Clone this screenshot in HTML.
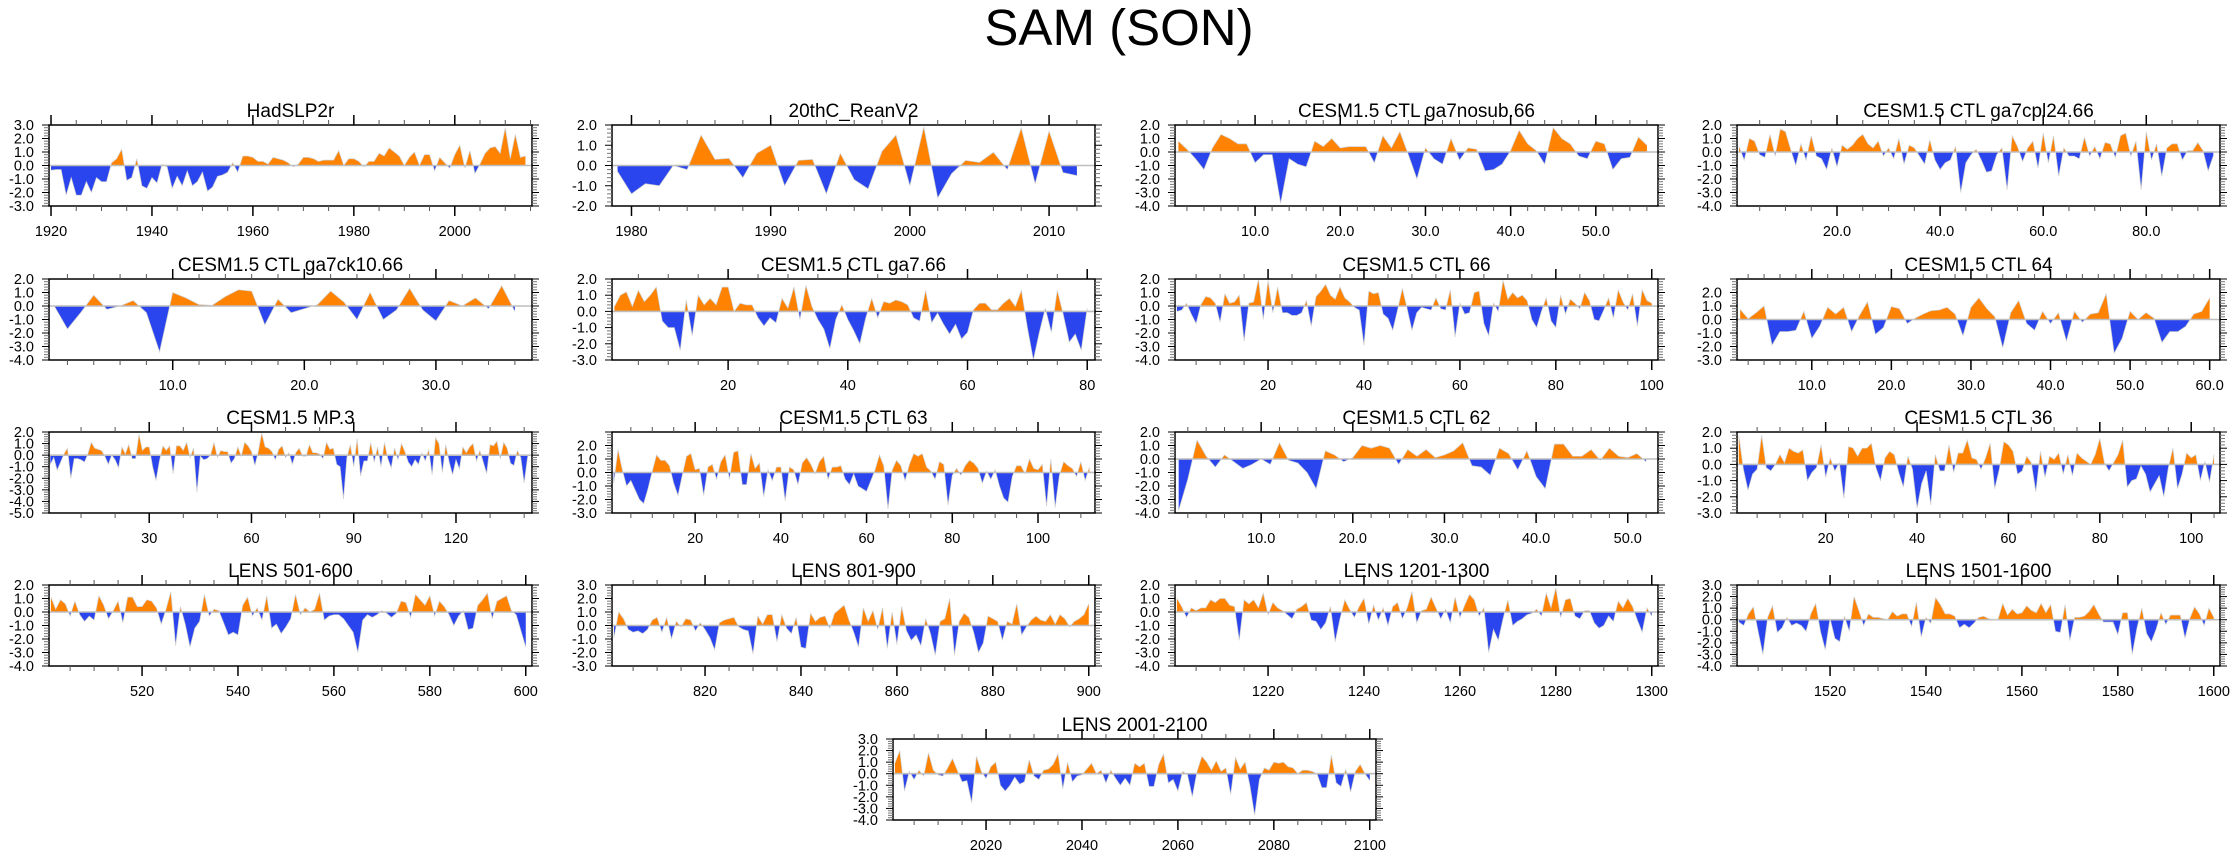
<!DOCTYPE html>
<html>
<head>
<meta charset="utf-8">
<style>
html,body{margin:0;padding:0;background:#fff;}
svg{display:block;}
text{font-family:"Liberation Sans",Arial,sans-serif;fill:#000;}
</style>
</head>
<body>
<svg id="chart" width="2238" height="856" viewBox="0 0 2238 856" xmlns="http://www.w3.org/2000/svg">
<rect x="0" y="0" width="2238" height="856" fill="#fff"/>
<text x="1119" y="45" font-size="51" text-anchor="middle">SAM (SON)</text>
</svg>
<script>
// ---- data ----
const panelTitles = ["HadSLP2r","20thC_ReanV2","CESM1.5 CTL ga7nosub.66","CESM1.5 CTL ga7cpl24.66","CESM1.5 CTL ga7ck10.66","CESM1.5 CTL ga7.66","CESM1.5 CTL 66","CESM1.5 CTL 64","CESM1.5 MP.3","CESM1.5 CTL 63","CESM1.5 CTL 62","CESM1.5 CTL 36","LENS 501-600","LENS 801-900","LENS 1201-1300","LENS 1501-1600","LENS 2001-2100"];
const panelStarts = [1920,1979,1,1,1,1,1,1,1,1,1,1,501,801,1201,1501,2001];
const yMins = [-3,-2,-4,-4,-4,-3,-4,-3,-5,-3,-4,-3,-4,-3,-4,-4,-4];
const yMaxs = [3,2,2,2,2,2,2,3,2,3,2,2,2,3,2,3,3];
const yLabelTops = [3,2,2,2,2,2,2,2,2,2,2,2,2,3,2,3,3];
const xTickStarts = [1920,1980,10,20,10,20,20,10,30,20,10,20,520,820,1220,1520,2020];
const xTickSteps = [20,10,10,20,10,20,20,10,30,20,10,20,20,20,20,20,20];
const xMinorSteps = [5,2,2,5,2,5,5,2,10,5,2,5,5,5,5,5,5];
const xDecimals = [0,0,1,1,1,0,0,1,0,0,1,0,0,0,0,0,0];

const hadslp2rValues = [-0.35,-0.3,-0.3,-2.2,-0.9,-2.2,-2.2,-1.2,-2.0,-0.9,-1.2,-1.2,0.2,0.5,1.2,-1.1,-0.9,0.5,-1.5,-1.7,-0.9,-1.3,0.1,-0.1,-1.7,-0.8,-1.5,-0.4,-1.5,-1.2,-0.5,-1.9,-1.6,-0.8,-0.7,-0.5,0.2,-0.5,0.7,0.7,0.6,0.3,0.3,0.1,0.6,0.5,0.4,0.2,-0.1,0.1,0.6,0.6,0.5,0.3,0.4,0.4,0.4,1.1,0.0,0.5,0.5,0.3,-0.1,0.3,0.3,0.9,0.7,1.3,1.0,0.7,0.0,0.6,1.0,0.0,0.8,0.8,-0.4,0.6,0.2,-0.2,0.8,1.5,-0.2,1.1,-0.6,0.1,0.9,1.3,1.4,0.9,2.8,0.5,2.3,0.6,0.7];
const reanV2Values = [-0.3,-1.4,-0.9,-1.0,0.0,-0.2,1.5,0.3,0.35,-0.6,0.6,1.0,-1.0,0.25,0.3,-1.4,0.6,-0.7,-1.15,0.7,1.5,-1.0,1.9,-1.6,-0.4,0.25,0.15,0.65,-0.2,1.85,-0.9,1.7,-0.35,-0.5];
const ga7nosubValues = [0.8,0.2,-0.5,-1.3,0.3,1.3,1.0,0.6,0.6,-0.8,-0.2,-0.2,-3.8,-0.5,-0.9,-1.1,0.8,0.4,1.0,0.3,0.4,0.4,0.4,-0.8,1.2,0.3,1.5,-0.2,-2.0,0.3,-0.5,-0.9,1.0,-0.6,0.3,0.2,-1.4,-1.3,-0.9,0.1,1.6,0.6,0.1,-0.9,1.8,1.0,0.6,-0.3,-0.5,0.8,0.6,-1.3,-0.5,-0.4,1.1,0.5];
const ga7cpl24Values = [0.4,-0.6,1.0,0.8,-0.2,-0.4,1.3,-0.3,1.7,1.5,0.2,-1.0,0.6,-0.6,1.2,-0.3,-0.5,-1.3,0.3,-1.1,0.5,0.2,0.5,1.0,1.3,0.6,0.3,0.8,-0.3,0.3,-0.5,1.0,-0.9,0.5,0.3,-0.3,-0.9,0.9,-0.6,-1.3,-0.8,-0.6,0.4,-3.0,-0.8,-0.2,0.2,-0.6,-1.5,-1.4,-0.2,0.3,-2.8,1.2,0.4,-0.7,0.3,0.8,-1.2,1.4,-0.8,1.2,-1.8,0.3,-0.3,-0.3,-0.5,1.1,-0.3,0.4,-0.5,0.7,0.6,-0.4,1.2,1.4,-0.3,0.8,-2.8,1.5,-0.6,0.6,-1.8,0.3,0.6,0.6,-0.6,0.1,0.1,0.7,0.1,-1.4,-0.3];
const ga7ck10Values = [0.0,-1.7,-0.5,0.8,-0.25,0.0,0.4,-0.5,-3.4,1.0,0.6,0.1,0.05,0.7,1.2,1.1,-1.4,0.5,-0.5,-0.2,0.1,1.1,0.3,-1.0,1.0,-1.0,-0.3,1.3,-0.3,-1.1,0.4,0.0,0.6,-0.2,1.5,-0.4];
const ga7Values = [0.3,1.0,1.2,0.3,1.3,0.6,1.0,1.5,-0.6,-1.0,-1.0,-2.4,0.7,-1.5,1.0,0.4,0.8,0.4,1.5,1.5,0.0,0.5,0.4,0.4,-0.4,-0.9,-0.4,-0.7,0.8,0.2,1.5,-0.5,1.6,0.3,-0.5,-1.1,-2.3,-0.5,0.4,-0.5,-1.2,-2.0,-0.4,0.8,-0.4,0.6,0.5,0.7,0.6,0.4,-0.4,-0.6,1.3,-0.7,-0.1,-0.8,-1.4,-0.8,-1.7,-1.3,0.1,0.5,0.5,0.1,0.1,0.5,0.8,0.3,1.3,-1.0,-3.0,-1.3,0.2,-1.3,1.3,-0.2,-1.9,-1.4,-2.4,0.2];
const ctl66Values = [-0.4,-0.3,0.2,-0.6,-1.3,0.1,0.7,0.6,0.2,-1.2,0.9,0.2,0.3,0.8,-2.6,0.2,0.3,2.0,-1.0,1.9,-0.5,1.4,-0.5,-0.5,-0.7,-0.7,-0.5,0.4,-1.5,0.7,1.1,1.6,0.8,0.5,1.4,0.6,0.3,-0.1,-0.3,-2.9,1.1,0.9,1.0,-0.6,-0.9,-1.8,-0.3,1.3,-0.2,-1.8,-0.5,-0.1,-0.2,-0.3,0.6,-0.2,-0.3,1.2,-2.3,0.2,-0.6,-0.5,1.0,1.1,-1.3,-2.2,0.2,-0.4,1.9,0.5,1.0,0.6,0.8,0.4,-1.0,-1.6,-0.4,0.6,-1.1,-1.6,0.8,-0.6,0.5,0.2,-0.2,1.0,0.4,-1.0,-1.1,-0.3,0.6,-0.9,1.2,0.3,-0.3,0.9,-1.5,1.2,0.4,0.2];
const ctl64Values = [0.75,0.05,0.5,1.0,-1.9,-0.9,-0.9,-0.8,0.6,-1.4,-0.5,0.9,0.4,0.9,-0.9,0.3,1.3,-1.1,-0.6,0.95,0.8,-0.3,0.1,0.4,0.65,0.7,0.9,0.4,-1.2,0.9,1.6,0.8,0.2,-2.1,0.5,1.4,-0.3,-0.8,0.6,-0.3,0.5,-1.6,0.6,-0.2,0.4,0.5,1.9,-2.5,-1.4,0.6,0.0,0.5,0.1,-1.7,-0.9,-0.9,-0.5,0.4,0.6,1.6];
const mp3Values = [-0.8,-0.2,-1.3,-0.6,0.1,0.6,-2.0,-0.3,-0.3,-0.4,-0.6,0.1,1.1,0.6,0.5,0.4,-0.1,-0.8,0.0,-0.4,-1.1,0.7,0.1,0.9,-0.3,-0.3,1.8,0.4,0.7,0.7,-1.0,-2.2,-0.5,0.8,0.4,0.8,-1.6,0.8,0.8,0.4,1.1,-0.2,0.6,-3.2,-0.1,-0.4,-0.3,0.0,1.1,-0.2,0.4,0.3,0.3,-0.7,-0.3,0.7,-0.1,1.1,0.8,0.3,-0.9,0.3,1.9,0.7,0.6,0.3,-0.4,0.5,0.8,-0.2,0.2,-0.8,0.2,0.6,-0.1,-0.1,0.9,0.2,0.2,0.1,-0.3,1.1,0.5,0.6,-0.8,-1.0,-3.8,-0.2,0.9,-1.0,1.4,-1.8,-0.5,-0.5,1.1,-0.6,0.7,-1.0,1.1,-0.3,-1.1,0.6,-0.4,1.0,0.3,-0.6,-1.0,-0.4,-0.8,0.2,-0.5,0.5,-1.7,1.5,1.0,-1.5,0.9,-0.6,-1.7,-0.4,-1.2,0.7,0.2,0.7,1.0,-0.5,0.4,-0.6,-1.6,0.9,0.8,1.2,-0.3,1.1,0.6,-0.7,-0.9,0.4,-0.2,-2.4,-0.2];
const ctl63Values = [-0.8,1.7,0.2,-1.0,-0.6,-1.3,-2.0,-2.3,-1.2,0.1,1.3,0.9,0.9,0.5,-0.8,-1.7,-0.2,1.2,1.4,0.2,0.3,-1.7,0.4,0.6,-0.5,0.8,1.3,-0.5,1.5,1.6,-0.9,-0.9,1.4,0.3,0.7,-1.8,0.2,-0.6,0.4,0.4,-2.1,0.4,0.2,-0.9,0.7,1.1,0.6,-0.1,0.8,1.2,-0.5,0.4,0.4,0.5,-0.5,-0.9,-0.1,-1.0,-1.2,-1.4,-0.6,0.2,1.3,0.5,-2.7,0.2,0.9,0.5,-0.6,0.6,1.4,1.2,1.4,0.4,0.1,-0.5,0.8,0.6,-2.4,-0.2,0.3,-0.2,0.5,0.9,0.7,0.3,-0.8,0.1,-0.5,0.2,-1.0,-1.9,-2.2,-0.3,0.5,0.5,-0.1,1.0,0.3,0.2,0.6,-2.5,1.0,-2.6,-0.2,0.8,0.5,0.3,-0.3,0.8,-0.6,0.4];
const ctl62Values = [-3.8,-1.5,1.4,0.2,-0.6,0.3,-0.2,-0.7,-0.4,0.0,-0.4,1.2,-0.1,-0.3,-1.0,-2.2,0.6,0.3,-0.2,0.1,1.0,0.8,1.0,0.8,-0.4,0.7,0.2,0.7,0.1,0.3,0.6,1.2,-0.5,-0.6,-1.2,0.8,0.4,-0.8,0.6,-1.3,-2.2,1.1,1.1,0.2,0.2,0.7,-0.1,0.8,0.2,0.1,0.4,-0.2];
const ctl36Values = [1.8,-0.3,-1.6,-0.6,-0.3,1.8,-0.2,-0.4,0.0,0.6,0.1,1.0,0.8,0.7,0.9,-1.0,-0.5,-0.2,1.2,-0.8,0.4,-0.4,0.1,-2.1,1.1,1.0,0.5,1.0,1.0,1.3,-0.2,-1.0,0.4,0.8,0.6,-0.5,-1.4,0.5,-0.3,-2.7,-1.2,-0.4,-2.5,0.6,-0.4,-0.4,1.2,-0.5,0.7,0.7,1.5,0.4,0.3,-0.3,0.4,1.3,-1.5,-0.3,1.4,1.2,0.8,-0.6,-0.4,0.5,0.1,-1.7,0.8,-0.8,0.5,0.3,0.7,-0.6,0.6,-0.7,0.7,0.4,0.2,0.0,0.6,1.6,0.1,-0.4,0.1,0.6,1.5,-1.4,-1.0,-0.9,-0.1,-0.6,-1.7,-1.2,-0.7,-2.0,-0.2,1.0,-1.5,-0.6,0.7,0.4,0.6,-1.0,0.2,-1.1,0.6];
const lens501Values = [1.1,0.2,0.9,0.6,-0.3,0.8,-0.2,-0.7,-0.3,-0.6,1.2,0.5,-0.5,0.1,0.8,-0.8,1.1,1.1,0.4,0.4,0.9,0.8,0.3,-0.9,0.2,1.5,-2.5,0.4,-0.9,-2.6,-1.2,-0.7,1.3,-0.3,0.2,0.1,-0.8,-1.7,-1.5,-1.7,0.5,1.1,-0.3,0.3,-0.6,1.2,-1.2,-0.9,-1.6,-1.1,-0.5,1.3,-0.2,0.3,0.0,0.2,1.4,-0.6,-0.3,-0.2,-0.2,-0.5,-1.0,-1.5,-3.0,-0.6,-0.2,-0.4,-0.2,0.1,-0.1,-0.4,-0.1,0.8,0.7,-0.4,1.3,0.9,0.5,1.2,-0.3,0.8,0.4,-0.2,-1.0,-0.3,0.1,-1.3,-1.2,0.5,0.9,1.4,-0.5,0.8,1.0,1.2,0.1,-0.2,-1.4,-2.6];
const lens801Values = [-0.9,1.0,0.5,-0.3,-0.5,-0.4,-0.6,-0.3,0.4,0.6,-0.5,0.6,-1.0,0.3,-0.1,0.5,0.4,-0.4,0.2,-0.3,-0.9,-1.8,0.2,0.4,0.5,0.6,-0.1,-0.3,-0.4,-2.1,0.7,0.1,0.8,0.8,-1.2,0.8,-0.2,-0.6,0.6,-1.6,-1.7,0.9,0.3,0.6,0.7,-0.2,0.9,1.2,1.5,0.4,-0.5,-1.6,1.3,0.3,1.1,-0.3,1.3,-1.7,1.0,-1.4,1.4,-0.4,-1.1,-0.7,-1.5,0.5,-0.6,-2.2,0.3,0.5,2.0,-2.2,0.3,0.9,0.6,-0.5,-2.0,-1.3,0.7,0.5,0.3,-1.1,0.3,0.1,1.6,-0.7,-0.1,0.4,0.7,0.4,0.3,0.8,0.1,0.8,0.5,-0.1,0.3,0.5,0.8,1.6];
const lens1201Values = [1.0,0.4,-0.4,0.3,0.1,0.3,0.3,0.9,0.7,1.0,1.0,0.5,0.4,-2.1,0.9,0.6,0.9,0.3,1.4,-0.2,0.7,0.3,0.1,-0.2,-0.5,0.2,0.4,0.7,-0.6,-0.7,-1.3,-0.8,0.4,-2.2,-0.5,0.9,0.2,-0.4,0.4,1.0,-0.9,0.5,-0.6,0.3,-1.0,0.4,0.7,-0.5,0.3,1.5,-0.8,0.1,0.2,1.1,0.3,-0.5,0.2,-0.8,1.1,-0.4,0.5,1.3,0.9,-0.3,0.3,-3.0,-1.3,-2.1,-0.5,0.9,-1.0,-0.7,-0.5,-0.2,-0.1,0.2,-0.3,1.4,0.3,1.8,-0.4,0.9,1.0,-0.3,-0.5,0.1,0.1,-0.8,-1.2,-1.0,-0.3,-0.7,0.8,0.3,1.0,0.4,-0.6,-1.5,0.3,-0.3];
const lens1501Values = [-0.2,-0.5,0.5,1.1,-1.0,-3.0,0.2,1.2,-1.1,-0.7,0.2,-0.5,-0.3,-0.5,-1.0,0.5,1.4,-1.0,-2.6,0.1,-1.6,-1.9,0.3,-1.0,2.0,0.8,-0.5,0.5,0.2,0.2,0.1,0.0,0.7,0.3,0.5,0.5,-0.6,1.5,-1.5,0.2,-0.3,1.9,1.3,0.5,0.5,0.3,-0.7,-0.4,-0.7,-0.3,0.2,0.3,0.1,0.0,0.0,1.4,0.4,0.9,0.5,0.6,1.2,0.8,0.6,1.4,0.6,1.3,-1.0,-1.1,1.3,-1.8,0.2,0.2,0.3,0.7,1.3,0.5,-0.2,-0.2,-0.2,-1.3,0.6,0.6,-3.0,-0.7,1.0,-1.2,-1.9,-0.8,0.6,-0.4,0.4,0.4,0.4,-1.6,0.1,1.1,0.5,-0.5,1.0,0.2];
const lens2001Values = [0.9,2.0,-1.5,0.2,-0.5,0.3,-0.2,1.8,0.3,-0.1,-0.2,0.5,1.3,0.3,-0.7,-0.6,-2.5,1.5,0.2,-0.4,0.6,1.0,-1.0,-1.5,-1.0,-0.3,-0.9,-0.7,1.2,-0.2,-0.5,0.3,0.4,0.8,1.7,-1.3,1.0,-0.7,-0.2,-0.1,0.4,0.9,0.0,0.3,-0.8,0.3,-0.4,-1.0,-0.4,-1.0,0.9,0.6,0.9,-1.1,-1.1,0.8,1.7,-0.8,-0.5,-1.5,0.2,-0.1,-2.0,0.2,1.5,1.0,0.3,1.1,0.2,0.5,-1.8,1.4,0.4,1.0,-1.0,-3.6,-0.5,0.5,0.3,1.0,0.9,1.0,0.6,0.5,0.0,0.3,0.3,0.2,0.0,-1.2,-1.2,1.6,-0.8,-1.1,0.4,-1.6,0.2,0.8,0.0,-0.6];

const panelValues = [hadslp2rValues,reanV2Values,ga7nosubValues,ga7cpl24Values,ga7ck10Values,ga7Values,ctl66Values,ctl64Values,mp3Values,ctl63Values,ctl62Values,ctl36Values,lens501Values,lens801Values,lens1201Values,lens1501Values,lens2001Values];

// ---- layout ----
const NS = "http://www.w3.org/2000/svg";
const svg = document.getElementById("chart");
const colLefts = [49, 612, 1175, 1737];
const rowTops = [125, 279, 432, 585, 739];
const BOX_W = 483, BOX_H = 81;
const ORANGE = "#ff8200", BLUE = "#2a45ee";

function mk(tag, attrs, parent) {
  const el = document.createElementNS(NS, tag);
  for (const k in attrs) el.setAttribute(k, attrs[k]);
  (parent || svg).appendChild(el);
  return el;
}
function slug(s) { return s.toLowerCase().replace(/[^a-z0-9]+/g, "-").replace(/^-|-$/g, ""); }

for (let p = 0; p < panelTitles.length; p++) {
  const vals = panelValues[p];
  const first = panelStarts[p];
  const last = first + vals.length - 1;
  const left = p < 16 ? colLefts[p % 4] : 893;
  const top = p < 16 ? rowTops[Math.floor(p / 4)] : rowTops[4];
  const xmin = first - 0.4, xmax = last + 1.3;
  const ymin = yMins[p], ymax = yMaxs[p];
  const sx = v => left + (v - xmin) / (xmax - xmin) * BOX_W;
  const sy = v => top + (ymax - v) / (ymax - ymin) * BOX_H;
  const name = slug(panelTitles[p]);

  const g = mk("g", {});
  
  

  const title = mk("text", {x: left + BOX_W / 2, y: top - 8, "font-size": 19, "text-anchor": "middle"}, g);
  title.textContent = panelTitles[p];
  
  

  const y0 = sy(0);
  const defs = mk("defs", {}, g);
  const cpA = mk("clipPath", {id: "ca" + p}, defs);
  mk("rect", {x: left, y: top, width: BOX_W, height: y0 - top}, cpA);
  const cpB = mk("clipPath", {id: "cb" + p}, defs);
  mk("rect", {x: left, y: y0, width: BOX_W, height: top + BOX_H - y0}, cpB);

  let d = "M" + sx(first).toFixed(2) + "," + y0.toFixed(2);
  let line = "";
  vals.forEach((v, i) => {
    const px = sx(first + i).toFixed(2), py = sy(v).toFixed(2);
    d += " L" + px + "," + py;
    line += (i ? " " : "") + px + "," + py;
  });
  d += " L" + sx(last).toFixed(2) + "," + y0.toFixed(2) + " Z";

  const pos = mk("path", {d: d, fill: ORANGE, "clip-path": "url(#ca" + p + ")"}, g);
  
  
  const neg = mk("path", {d: d, fill: BLUE, "clip-path": "url(#cb" + p + ")"}, g);
  
  
  const zl = mk("line", {x1: left, x2: left + BOX_W, y1: y0, y2: y0, stroke: "#bdbdbd", "stroke-width": 1.6}, g);
  
  
  const pl = mk("polyline", {points: line, fill: "none", stroke: "#cfcfcf", "stroke-width": 0.7}, g);
  
  

  const box = mk("rect", {x: left, y: top, width: BOX_W, height: BOX_H, fill: "none", stroke: "#000", "stroke-width": 1.5}, g);
  
  

  const ticks = mk("g", {stroke: "#000"}, g);
  
  
  for (let k = Math.round(ymin * 5); k <= Math.round(ymax * 5); k++) {
    const yy = sy(k / 5);
    const major = k % 5 === 0;
    const L = major ? 7 : 5;
    const col = major ? "#000" : "#777";
    mk("line", {x1: left - L, x2: left, y1: yy, y2: yy, stroke: col, "stroke-width": 1}, ticks);
    mk("line", {x1: left + BOX_W, x2: left + BOX_W + L, y1: yy, y2: yy, stroke: col, "stroke-width": 1}, ticks);
  }
  for (let v = ymin; v <= yLabelTops[p]; v++) {
    const t = mk("text", {x: left - 15, y: sy(v) + 5, "font-size": 14.5, "text-anchor": "end"}, g);
    t.textContent = v.toFixed(1);
    
    
  }
  const ms = xMinorSteps[p];
  for (let v = Math.ceil(xmin / ms) * ms; v <= xmax; v += ms) {
    const xx = sx(v);
    mk("line", {x1: xx, x2: xx, y1: top - 5, y2: top, "stroke-width": 1, stroke: "#555"}, ticks);
    mk("line", {x1: xx, x2: xx, y1: top + BOX_H, y2: top + BOX_H + 5, "stroke-width": 1, stroke: "#555"}, ticks);
  }
  for (let v = xTickStarts[p]; v <= xmax; v += xTickSteps[p]) {
    const xx = sx(v);
    mk("line", {x1: xx, x2: xx, y1: top - 10, y2: top, "stroke-width": 1.5}, ticks);
    mk("line", {x1: xx, x2: xx, y1: top + BOX_H, y2: top + BOX_H + 10, "stroke-width": 1.5}, ticks);
    const t = mk("text", {x: xx, y: top + BOX_H + 30, "font-size": 14.5, "text-anchor": "middle"}, g);
    t.textContent = xDecimals[p] ? v.toFixed(1) : String(v);
    
    
  }
}
</script>
</body>
</html>
